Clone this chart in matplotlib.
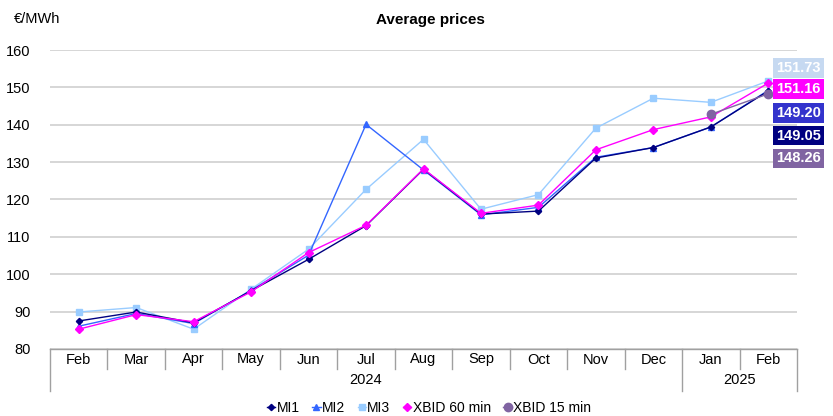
import matplotlib
matplotlib.use("Agg")
import matplotlib.pyplot as plt
from matplotlib.lines import Line2D
import numpy as np

plt.rcParams['font.family'] = ['Liberation Sans', 'DejaVu Sans']

months = ["Feb", "Mar", "Apr", "May", "Jun", "Jul", "Aug", "Sep", "Oct", "Nov", "Dec", "Jan", "Feb"]
years = ["2024", "2025"]
year_spans = [(0, 10), (11, 12)]

mi1 = [87.5, 89.9, 87.0, 95.6, 104.0, 113.0, 128.1, 116.1, 116.9, 131.1, 133.9, 139.4, 149.05]
mi2 = [86.1, 89.5, 86.8, 95.7, 105.1, 140.1, 127.9, 115.9, 117.9, 131.3, 133.9, 139.4, 149.20]
mi3 = [89.9, 91.1, 85.3, 96.0, 106.7, 122.7, 136.1, 117.4, 121.3, 139.1, 147.1, 146.0, 151.73]
xbid60 = [85.3, 89.2, 87.3, 95.3, 105.8, 113.1, 128.2, 116.3, 118.5, 133.3, 138.7, 142.1, 151.16]
xbid15 = [None] * 11 + [142.8, 148.26]

series = [
    ("MI1", mi1, "#000080", "D", 3.2),
    ("MI2", mi2, "#3366FF", "^", 5),
    ("MI3", mi3, "#99CCFF", "s", 5),
    ("XBID 60 min", xbid60, "#FF00FF", "D", 3.8),
    ("XBID 15 min", xbid15, "#8064A2", "o", 6),
]
last_labels = ["151.73", "151.16", "149.20", "149.05", "148.26"]
label_colors = ["#C6D9F1", "#FF00FF", "#3333CC", "#000080", "#8064A2"]
label_y_px = [68, 89, 113, 135.5, 158.5]

W, H = 833, 416
fig = plt.figure(figsize=(W / 100, H / 100), dpi=100)
ax = fig.add_axes([50 / W, 1 - 349 / H, (797 - 50) / W, (349 - 50) / H])
AH = 299.0

x = np.arange(len(months))
zorders = {"MI3": 2, "MI2": 3, "MI1": 4, "XBID 60 min": 5, "XBID 15 min": 6}
handles = []
for name, vals, col, mk, ms in series:
    arr = np.array([np.nan if v is None else v for v in vals], dtype=float)
    ax.plot(x, arr, color=col, lw=1.0, marker=mk, ms=ms, mec=col, mfc=col, zorder=zorders[name])
    handles.append(Line2D([0], [0], color=col, lw=1.0, marker=mk, ms=ms, mec=col, mfc=col))

ax.set_xlim(-0.5, len(months) - 0.5)
ax.set_ylim(80, 160)
ax.set_yticks(np.arange(80, 161, 10))
ax.yaxis.grid(True, color="#D0D0D0", lw=1.2)
ax.set_axisbelow(True)
for s in ["top", "right", "left"]:
    ax.spines[s].set_visible(False)
ax.spines["bottom"].set_color("#A0A0A0")
ax.spines["bottom"].set_linewidth(1.0)
ax.tick_params(axis="y", length=0, labelsize=10.5, pad=14)
ax.set_xticks([])

# month labels and separators
trans = ax.get_xaxis_transform()
for i, m in enumerate(months):
    ax.text(i, -10.5 / AH, m, transform=trans, ha="center", va="center", fontsize=10.5, clip_on=False)
for b in range(len(months) + 1):
    xb = b - 0.5
    is_year = b in (0, 11, 13)
    y0 = -(41.5 if is_year else 20) / AH
    ax.add_line(Line2D([xb, xb], [0, y0], transform=trans, color="#A0A0A0", lw=1.0, clip_on=False))
for (a, bnd), yr in zip(year_spans, years):
    ax.text((a + bnd) / 2, -31.5 / AH, yr, transform=trans, ha="center", va="center", fontsize=10.5, clip_on=False)

# value labels at right
for lab, col, ypx in zip(last_labels, label_colors, label_y_px):
    fig.text(798.5 / W, 1 - ypx / H, lab, ha="center", va="center", fontsize=10.5, fontweight="bold",
             color="white", bbox=dict(boxstyle="square,pad=0.2", fc=col, ec="none"))

fig.text(430 / W, 1 - 20 / H, "Average prices", ha="center", va="center", fontsize=11, fontweight="bold")
fig.text(14 / W, 1 - 19 / H, "€/MWh", ha="left", va="center", fontsize=10.5)

fig.legend(handles, [s[0] for s in series], loc="center", bbox_to_anchor=(429 / W, 1 - 408 / H),
           ncol=5, frameon=False, fontsize=10, handlelength=0.6, handletextpad=0.1,
           columnspacing=0.9, borderaxespad=0)

fig.savefig("out.png", dpi=100)
